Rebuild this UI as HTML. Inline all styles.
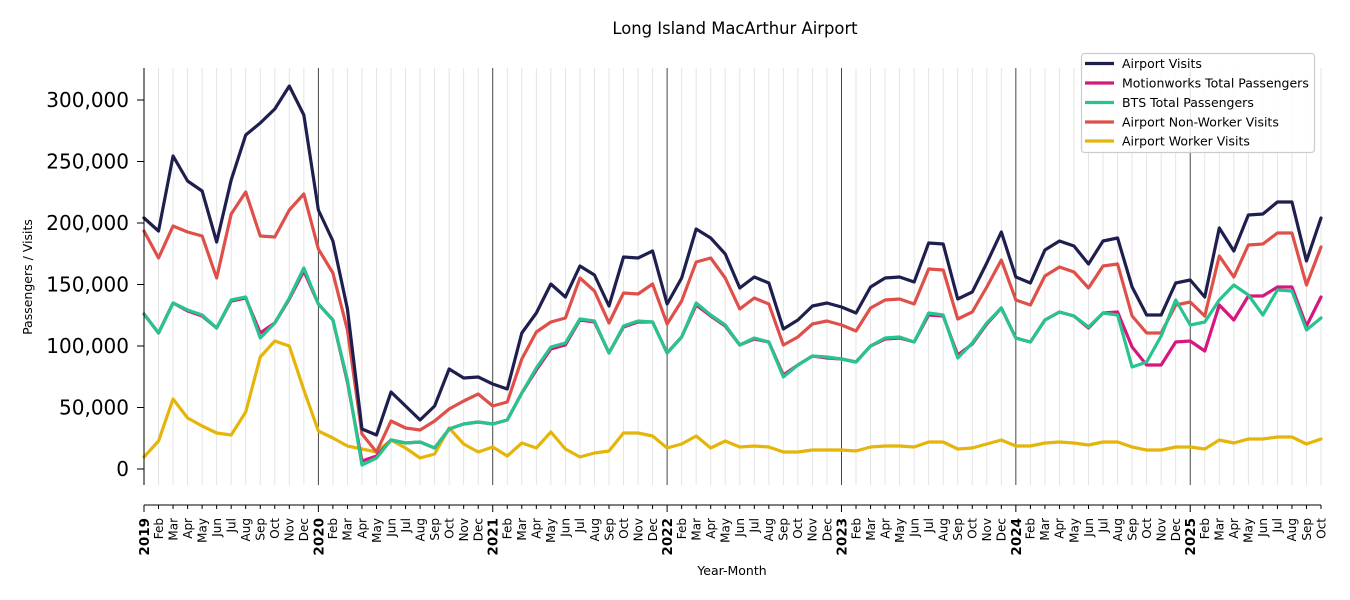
<!DOCTYPE html>
<html><head><meta charset="utf-8"><style>
html,body{margin:0;padding:0;background:#fff;}
svg{display:block;font-family:"DejaVu Sans","Liberation Sans",sans-serif;}
.y{font-weight:bold;font-size:13.5px;}
</style></head><body>
<svg width="1350" height="600" viewBox="0 0 1350 600" xmlns="http://www.w3.org/2000/svg">
<rect width="1350" height="600" fill="#fff"/>
<g transform="translate(144,0) scale(14.5309,1)" fill="none">
<path vector-effect="non-scaling-stroke" stroke="#e2e2e2" stroke-width="0.9" d="M1 68V485M2 68V485M3 68V485M4 68V485M5 68V485M6 68V485M7 68V485M8 68V485M9 68V485M10 68V485M11 68V485M13 68V485M14 68V485M15 68V485M16 68V485M17 68V485M18 68V485M19 68V485M20 68V485M21 68V485M22 68V485M23 68V485M25 68V485M26 68V485M27 68V485M28 68V485M29 68V485M30 68V485M31 68V485M32 68V485M33 68V485M34 68V485M35 68V485M37 68V485M38 68V485M39 68V485M40 68V485M41 68V485M42 68V485M43 68V485M44 68V485M45 68V485M46 68V485M47 68V485M49 68V485M50 68V485M51 68V485M52 68V485M53 68V485M54 68V485M55 68V485M56 68V485M57 68V485M58 68V485M59 68V485M61 68V485M62 68V485M63 68V485M64 68V485M65 68V485M66 68V485M67 68V485M68 68V485M69 68V485M70 68V485M71 68V485M73 68V485M74 68V485M75 68V485M76 68V485M77 68V485M78 68V485M79 68V485M80 68V485M81 68V485"/>
<path vector-effect="non-scaling-stroke" stroke="#333" stroke-width="0.9" d="M12 68V485M24 68V485M36 68V485M48 68V485M60 68V485M72 68V485"/>
<path vector-effect="non-scaling-stroke" stroke="#000" stroke-width="1" d="M0 505V512M1 505V509M2 505V509M3 505V509M4 505V509M5 505V509M6 505V509M7 505V509M8 505V509M9 505V509M10 505V509M11 505V509M12 505V512M13 505V509M14 505V509M15 505V509M16 505V509M17 505V509M18 505V509M19 505V509M20 505V509M21 505V509M22 505V509M23 505V509M24 505V512M25 505V509M26 505V509M27 505V509M28 505V509M29 505V509M30 505V509M31 505V509M32 505V509M33 505V509M34 505V509M35 505V509M36 505V512M37 505V509M38 505V509M39 505V509M40 505V509M41 505V509M42 505V509M43 505V509M44 505V509M45 505V509M46 505V509M47 505V509M48 505V512M49 505V509M50 505V509M51 505V509M52 505V509M53 505V509M54 505V509M55 505V509M56 505V509M57 505V509M58 505V509M59 505V509M60 505V512M61 505V509M62 505V509M63 505V509M64 505V509M65 505V509M66 505V509M67 505V509M68 505V509M69 505V509M70 505V509M71 505V509M72 505V512M73 505V509M74 505V509M75 505V509M76 505V509M77 505V509M78 505V509M79 505V509M80 505V509M81 505V509"/>
<g stroke-width="3.2" stroke-linejoin="round" stroke-linecap="round">
<polyline vector-effect="non-scaling-stroke" stroke="#e5b50a" points="0,457 1,441 2,399 3,418 4,426 5,433 6,435 7,412 8,357 9,341 10,346 11,390 12,431 13,438 14,446 15,449 16,452 17,440 18,448 19,458 20,454 21,428 22,444 23,452 24,447 25,456 26,443 27,448 28,432 29,449 30,457 31,453 32,451 33,433 34,433 35,436 36,448 37,444 38,436 39,448 40,441 41,447 42,446 43,447 44,452 45,452 46,450 47,450 48,450 49,451 50,447 51,446 52,446 53,447 54,442 55,442 56,449 57,448 58,444 59,440 60,446 61,446 62,443 63,442 64,443 65,445 66,442 67,442 68,447 69,450 70,450 71,447 72,447 73,449 74,440 75,443 76,439 77,439 78,437 79,437 80,444 81,439"/>
<polyline vector-effect="non-scaling-stroke" stroke="#de5049" points="0,231 1,258 2,226 3,232 4,236 5,278 6,214 7,192 8,236 9,237 10,210 11,194 12,249 13,273 14,330 15,434 16,452 17,421 18,428 19,430 20,421 21,409 22,401 23,394 24,406 25,402 26,359 27,332 28,322 29,318 30,278 31,291 32,323 33,293 34,294 35,284 36,324 37,301 38,262 39,258 40,278 41,309 42,298 43,304 44,345 45,337 46,324 47,321 48,325 49,331 50,308 51,300 52,299 53,304 54,269 55,270 56,319 57,312 58,287 59,260 60,300 61,305 62,276 63,267 64,272 65,288 66,266 67,264 68,316 69,333 70,333 71,305 72,302 73,316 74,256 75,277 76,245 77,244 78,233 79,233 80,285 81,247"/>
<polyline vector-effect="non-scaling-stroke" stroke="#d6177f" points="0,314 1,333 2,303 3,311 4,316 5,328 6,301 7,298 8,333 9,323 10,299 11,271 12,304 13,320 14,382 15,461 16,456 17,440 18,443 19,442 20,448 21,429 22,424 23,422 24,424 25,420 26,393 27,370 28,349 29,345 30,320 31,322 32,353 33,327 34,322 35,322 36,353 37,337 38,305 39,316 40,326 41,345 42,339 43,342 44,375 45,365 46,356 47,358 48,359 49,362 50,346 51,339 52,338 53,342 54,315 55,316 56,355 57,344 58,324 59,308 60,338 61,342 62,320 63,312 64,316 65,328 66,313 67,312 68,347 69,365 70,365 71,342 72,341 73,351 74,305 75,320 76,296 77,296 78,287 79,287 80,326 81,297"/>
<polyline vector-effect="non-scaling-stroke" stroke="#27c48f" points="0,314 1,333 2,303 3,310 4,315 5,328 6,300 7,297 8,338 9,323 10,298 11,268 12,304 13,320 14,380 15,465 16,458 17,440 18,443 19,442 20,448 21,429 22,424 23,422 24,424 25,420 26,393 27,368 28,347 29,343 30,319 31,321 32,353 33,326 34,321 35,322 36,353 37,337 38,303 39,315 40,325 41,345 42,338 43,342 44,377 45,365 46,356 47,357 48,359 49,362 50,346 51,338 52,337 53,342 54,313 55,315 56,358 57,343 58,323 59,308 60,338 61,342 62,320 63,312 64,316 65,327 66,313 67,315 68,367 69,362 70,336 71,300 72,325 73,322 74,300 75,285 76,295 77,315 78,290 79,291 80,330 81,318"/>
<polyline vector-effect="non-scaling-stroke" stroke="#1f1f4f" points="0,218 1,231 2,156 3,181 4,191 5,242 6,180 7,135 8,123 9,109 10,86 11,115 12,210 13,241 14,309 15,429 16,435 17,392 18,406 19,420 20,406 21,369 22,378 23,377 24,384 25,389 26,333 27,313 28,284 29,297 30,266 31,275 32,306 33,257 34,258 35,251 36,304 37,278 38,229 39,238 40,254 41,288 42,277 43,283 44,329 45,320 46,306 47,303 48,307 49,313 50,287 51,278 52,277 53,282 54,243 55,244 56,299 57,292 58,263 59,232 60,277 61,283 62,250 63,241 64,246 65,264 66,241 67,238 68,287 69,315 70,315 71,283 72,280 73,297 74,228 75,251 76,215 77,214 78,202 79,202 80,261 81,218"/>
</g>
</g>
<line x1="144" y1="68" x2="144" y2="485" stroke="#000" stroke-width="1"/>
<line x1="144" y1="505" x2="1321" y2="505" stroke="#000" stroke-width="1"/>
<g font-size="20" text-anchor="end" fill="#000">
<text x="129" y="107">300,000</text>
<text x="129" y="168.5">250,000</text>
<text x="129" y="230">200,000</text>
<text x="129" y="291.5">150,000</text>
<text x="129" y="353">100,000</text>
<text x="129" y="414.5">50,000</text>
<text x="129" y="476">0</text>
</g>
<g stroke="#000" stroke-width="1">
<line x1="137" y1="100" x2="144" y2="100"/><line x1="137" y1="161.5" x2="144" y2="161.5"/><line x1="137" y1="223" x2="144" y2="223"/><line x1="137" y1="284.5" x2="144" y2="284.5"/><line x1="137" y1="346" x2="144" y2="346"/><line x1="137" y1="407.5" x2="144" y2="407.5"/><line x1="137" y1="469" x2="144" y2="469"/>
</g>
<g font-size="12" fill="#000" text-anchor="end">
<text class="y" transform="translate(149.0,518) rotate(-90)">2019</text>
<text transform="translate(162.8,518) rotate(-90)">Feb</text>
<text transform="translate(177.4,518) rotate(-90)">Mar</text>
<text transform="translate(191.9,518) rotate(-90)">Apr</text>
<text transform="translate(206.4,518) rotate(-90)">May</text>
<text transform="translate(221.0,518) rotate(-90)">Jun</text>
<text transform="translate(235.5,518) rotate(-90)">Jul</text>
<text transform="translate(250.0,518) rotate(-90)">Aug</text>
<text transform="translate(264.5,518) rotate(-90)">Sep</text>
<text transform="translate(279.1,518) rotate(-90)">Oct</text>
<text transform="translate(293.6,518) rotate(-90)">Nov</text>
<text transform="translate(308.1,518) rotate(-90)">Dec</text>
<text class="y" transform="translate(323.4,518) rotate(-90)">2020</text>
<text transform="translate(337.2,518) rotate(-90)">Feb</text>
<text transform="translate(351.7,518) rotate(-90)">Mar</text>
<text transform="translate(366.3,518) rotate(-90)">Apr</text>
<text transform="translate(380.8,518) rotate(-90)">May</text>
<text transform="translate(395.3,518) rotate(-90)">Jun</text>
<text transform="translate(409.9,518) rotate(-90)">Jul</text>
<text transform="translate(424.4,518) rotate(-90)">Aug</text>
<text transform="translate(438.9,518) rotate(-90)">Sep</text>
<text transform="translate(453.4,518) rotate(-90)">Oct</text>
<text transform="translate(468.0,518) rotate(-90)">Nov</text>
<text transform="translate(482.5,518) rotate(-90)">Dec</text>
<text class="y" transform="translate(497.7,518) rotate(-90)">2021</text>
<text transform="translate(511.6,518) rotate(-90)">Feb</text>
<text transform="translate(526.1,518) rotate(-90)">Mar</text>
<text transform="translate(540.6,518) rotate(-90)">Apr</text>
<text transform="translate(555.2,518) rotate(-90)">May</text>
<text transform="translate(569.7,518) rotate(-90)">Jun</text>
<text transform="translate(584.2,518) rotate(-90)">Jul</text>
<text transform="translate(598.8,518) rotate(-90)">Aug</text>
<text transform="translate(613.3,518) rotate(-90)">Sep</text>
<text transform="translate(627.8,518) rotate(-90)">Oct</text>
<text transform="translate(642.4,518) rotate(-90)">Nov</text>
<text transform="translate(656.9,518) rotate(-90)">Dec</text>
<text class="y" transform="translate(672.1,518) rotate(-90)">2022</text>
<text transform="translate(685.9,518) rotate(-90)">Feb</text>
<text transform="translate(700.5,518) rotate(-90)">Mar</text>
<text transform="translate(715.0,518) rotate(-90)">Apr</text>
<text transform="translate(729.5,518) rotate(-90)">May</text>
<text transform="translate(744.1,518) rotate(-90)">Jun</text>
<text transform="translate(758.6,518) rotate(-90)">Jul</text>
<text transform="translate(773.1,518) rotate(-90)">Aug</text>
<text transform="translate(787.7,518) rotate(-90)">Sep</text>
<text transform="translate(802.2,518) rotate(-90)">Oct</text>
<text transform="translate(816.7,518) rotate(-90)">Nov</text>
<text transform="translate(831.3,518) rotate(-90)">Dec</text>
<text class="y" transform="translate(846.5,518) rotate(-90)">2023</text>
<text transform="translate(860.3,518) rotate(-90)">Feb</text>
<text transform="translate(874.8,518) rotate(-90)">Mar</text>
<text transform="translate(889.4,518) rotate(-90)">Apr</text>
<text transform="translate(903.9,518) rotate(-90)">May</text>
<text transform="translate(918.4,518) rotate(-90)">Jun</text>
<text transform="translate(933.0,518) rotate(-90)">Jul</text>
<text transform="translate(947.5,518) rotate(-90)">Aug</text>
<text transform="translate(962.0,518) rotate(-90)">Sep</text>
<text transform="translate(976.6,518) rotate(-90)">Oct</text>
<text transform="translate(991.1,518) rotate(-90)">Nov</text>
<text transform="translate(1005.6,518) rotate(-90)">Dec</text>
<text class="y" transform="translate(1020.9,518) rotate(-90)">2024</text>
<text transform="translate(1034.7,518) rotate(-90)">Feb</text>
<text transform="translate(1049.2,518) rotate(-90)">Mar</text>
<text transform="translate(1063.7,518) rotate(-90)">Apr</text>
<text transform="translate(1078.3,518) rotate(-90)">May</text>
<text transform="translate(1092.8,518) rotate(-90)">Jun</text>
<text transform="translate(1107.3,518) rotate(-90)">Jul</text>
<text transform="translate(1121.9,518) rotate(-90)">Aug</text>
<text transform="translate(1136.4,518) rotate(-90)">Sep</text>
<text transform="translate(1150.9,518) rotate(-90)">Oct</text>
<text transform="translate(1165.5,518) rotate(-90)">Nov</text>
<text transform="translate(1180.0,518) rotate(-90)">Dec</text>
<text class="y" transform="translate(1195.2,518) rotate(-90)">2025</text>
<text transform="translate(1209.1,518) rotate(-90)">Feb</text>
<text transform="translate(1223.6,518) rotate(-90)">Mar</text>
<text transform="translate(1238.1,518) rotate(-90)">Apr</text>
<text transform="translate(1252.7,518) rotate(-90)">May</text>
<text transform="translate(1267.2,518) rotate(-90)">Jun</text>
<text transform="translate(1281.7,518) rotate(-90)">Jul</text>
<text transform="translate(1296.2,518) rotate(-90)">Aug</text>
<text transform="translate(1310.8,518) rotate(-90)">Sep</text>
<text transform="translate(1325.3,518) rotate(-90)">Oct</text>
</g>
<text x="735" y="34" font-size="16.4" text-anchor="middle">Long Island MacArthur Airport</text>
<text x="732" y="575" font-size="12.5" text-anchor="middle">Year-Month</text>
<text transform="translate(32,277) rotate(-90)" font-size="12.5" text-anchor="middle">Passengers / Visits</text>
<rect x="1081.5" y="53.5" width="233" height="99" rx="3" fill="#fff" fill-opacity="0.85" stroke="#ccc" stroke-width="1.2"/>
<g stroke-width="3.2">
<line x1="1085" y1="63.5" x2="1114" y2="63.5" stroke="#1f1f4f"/>
<line x1="1085" y1="83" x2="1114" y2="83" stroke="#d6177f"/>
<line x1="1085" y1="102.5" x2="1114" y2="102.5" stroke="#27c48f"/>
<line x1="1085" y1="122" x2="1114" y2="122" stroke="#de5049"/>
<line x1="1085" y1="141" x2="1114" y2="141" stroke="#e5b50a"/>
</g>
<g font-size="12.5" fill="#000">
<text x="1122" y="68">Airport Visits</text>
<text x="1122" y="87.5">Motionworks Total Passengers</text>
<text x="1122" y="107">BTS Total Passengers</text>
<text x="1122" y="126.5">Airport Non-Worker Visits</text>
<text x="1122" y="145.5">Airport Worker Visits</text>
</g>
</svg>
</body></html>
